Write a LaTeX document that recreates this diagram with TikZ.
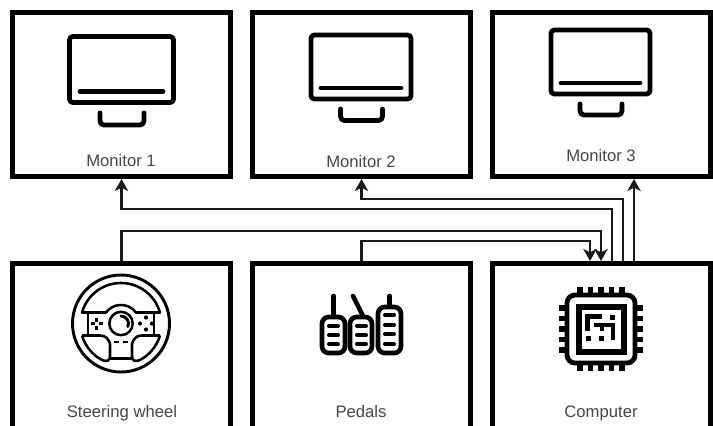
\documentclass[tikz,border=0pt]{standalone}
\usepackage{fontspec}
\setmainfont{Liberation Sans}
\usetikzlibrary{arrows.meta}
\tikzset{
  x=0.75pt,y=-0.75pt,
  boxn/.style={draw=black,line width=3.75pt,minimum width=163.5pt,inner sep=0pt,fill=white},
  mon/.style={boxn,minimum height=123pt},
  low/.style={boxn,minimum height=141pt},
  lab/.style={anchor=base,text=black!72,inner sep=0pt,font=\fontsize{12.5pt}{14pt}\selectfont},
  wire/.style={draw=black!90,line width=1.6pt},
  arr/.style={wire,-{Stealth[length=9pt,width=10pt,inset=2.5pt]}},
  ic/.style={draw=black,line width=3.6pt,line cap=round,line join=round},
  pd/.style={ic,line width=3.5pt},
  th/.style={draw=black,line width=1.9pt,line join=round},
  pin/.style={draw=black,line width=4.2pt},
  slot/.style={draw=black,line width=3pt,line cap=round},
}
\begin{document}
\begin{tikzpicture}
\useasboundingbox (0,0) rectangle (713,425);
\clip (0,0) rectangle (713,425);
\fill[white] (0,0) rectangle (713,425);
% boxes
\node[mon] (m1) at (121.5,94.5) {};
\node[mon] (m2) at (361.5,94.5) {};
\node[mon] (m3) at (601.5,94.5) {};
\node[low] (sw) at (121.5,357.5) {};
\node[low] (pd) at (361.5,357.5) {};
\node[low] (cp) at (601.5,357.5) {};
% ports
\coordinate (inA) at (590,261);
\coordinate (inB) at (601,261);
\coordinate (outA) at (612,261);
\coordinate (outB) at (623,261);
\coordinate (outC) at (634,261);
\coordinate (m3in) at (634,179);
% connectors
\draw[arr] (sw.north) -- (sw.north |- 0,231) -| (inB);
\draw[arr] (pd.north) -- (pd.north |- 0,241) -| (inA);
\draw[arr] (outA) -- (outA |- 0,209) -| (m1.south);
\draw[arr] (outB) -- (outB |- 0,199) -| (m2.south);
\draw[arr] (outC) -- (m3in);
% labels
\node[lab] (t1) at (121,166) {Monitor 1};
\node[lab] (t2) at (361,167) {Monitor 2};
\node[lab] (t3) at (601,161) {Monitor 3};
\node[lab] (t4) at (122,417) {Steering wheel};
\node[lab] (t5) at (361,417) {Pedals};
\node[lab] (t6) at (601,417) {Computer};
% monitor icons
\draw[ic,rounded corners=2.5pt] (69.5,36.5) rectangle (173.5,102.5);
\draw[ic] (80,91.5) -- (163,91.5);
\draw[ic,rounded corners=3pt] (100,113) -- (100,125) -- (144,125) -- (144,113);
\draw[ic,rounded corners=2.5pt] (311,35) rectangle (411,99);
\draw[ic] (321,88) -- (401,88);
\draw[ic,rounded corners=3pt] (340.5,109) -- (340.5,120.5) -- (382.5,120.5) -- (382.5,109);
\draw[ic,rounded corners=2.5pt] (551,30) rectangle (650,94);
\draw[ic] (561,83) -- (640,83);
\draw[ic,rounded corners=3pt] (580,104) -- (580,115) -- (622,115) -- (622,104);
% steering wheel
\begin{scope}[shift={(121,323.5)}]
\draw[th,line width=2.2pt] (0,0) circle[radius=48.5];
\draw[th] (-39,-11) arc[start angle=195.7,end angle=344.3,radius=40.5] -- (15,-11)
  arc[start angle=323.7,end angle=216.3,radius=18.6] -- cycle;
\draw[th] (-33,-11) -- (-33,11);
\draw[th] (33,-11) -- (33,11);
\draw[th,fill=white] (0,0) circle[radius=11.7];
\draw[th,line width=2.2pt,line cap=round] (0,-7.5) arc[start angle=270,end angle=385,radius=7.5];
\draw[th,rounded corners=2pt] (-39,12) -- (-18,12) .. controls (-13,15) and (-11,19) .. (-11,24) -- (-11,36) -- (-15,38)
  arc[start angle=111.5,end angle=163,radius=40.8];
\draw[th,rounded corners=2pt] (39,12) -- (18,12) .. controls (13,15) and (11,19) .. (11,24) -- (11,36) -- (15,38)
  arc[start angle=68.5,end angle=17,radius=40.8];
\draw[th] (-11,35) -- (11,35);
\draw[th] (-7,18.3) -- (-1.7,18.3);
\draw[th] (1.7,18.3) -- (7,18.3);
\foreach \a/\b/\c/\d in {-30.5/0/-26.5/0,-22/0/-18/0,-24.3/-6/-24.3/-2,-24.3/2/-24.3/6}
  \draw[th] (\a,\b) -- (\c,\d);
\foreach \a/\b in {19/0,31/0,25/-6,25/6}
  \fill (\a,\b) circle[radius=2.1];
\end{scope}
% pedals
\draw[pd,rounded corners=5pt] (322,317) rectangle (345,353);
\draw[pd,rounded corners=5pt] (350,317) rectangle (372,353);
\draw[pd,rounded corners=5pt] (378,307) rectangle (401,353);
\draw[pd] (333.5,296) -- (333.5,316);
\draw[pd] (353,296) -- (363,316);
\draw[pd] (389.5,296) -- (389.5,306);
\foreach \yy in {326,335,344}{
  \draw[slot] (329,\yy) -- (338,\yy);
  \draw[slot] (357,\yy) -- (366,\yy);
}
\foreach \yy in {315,325,334,344}
  \draw[slot] (385,\yy) -- (394,\yy);
% chip
\draw[draw=black,rounded corners=6pt,line width=3.6pt] (567,295) rectangle (635,363);
\draw[draw=black,line width=4.5pt] (578.5,306.5) rectangle (624,352);
\foreach \q in {-21,-10.5,0,10.5,21}{
  \draw[pin] (601+\q,286.5) -- (601+\q,294);
  \draw[pin] (601+\q,364) -- (601+\q,371);
  \draw[pin] (559,329+\q) -- (566,329+\q);
  \draw[pin] (636,329+\q) -- (643,329+\q);
}
\draw[pin,line width=3.4pt] (587.5,331) -- (587.5,316.5) -- (602,316.5);
\fill (609.5,314.5) rectangle (614.5,319.5);
\draw[pin,line width=3.4pt] (594,325) -- (613,325) -- (613,340);
\draw[pin,line width=3.4pt] (602,325) -- (602,331);
\fill (586,335.5) rectangle (591,340.5);
\fill (598.5,335.5) rectangle (603.5,340.5);
\end{tikzpicture}
\end{document}
